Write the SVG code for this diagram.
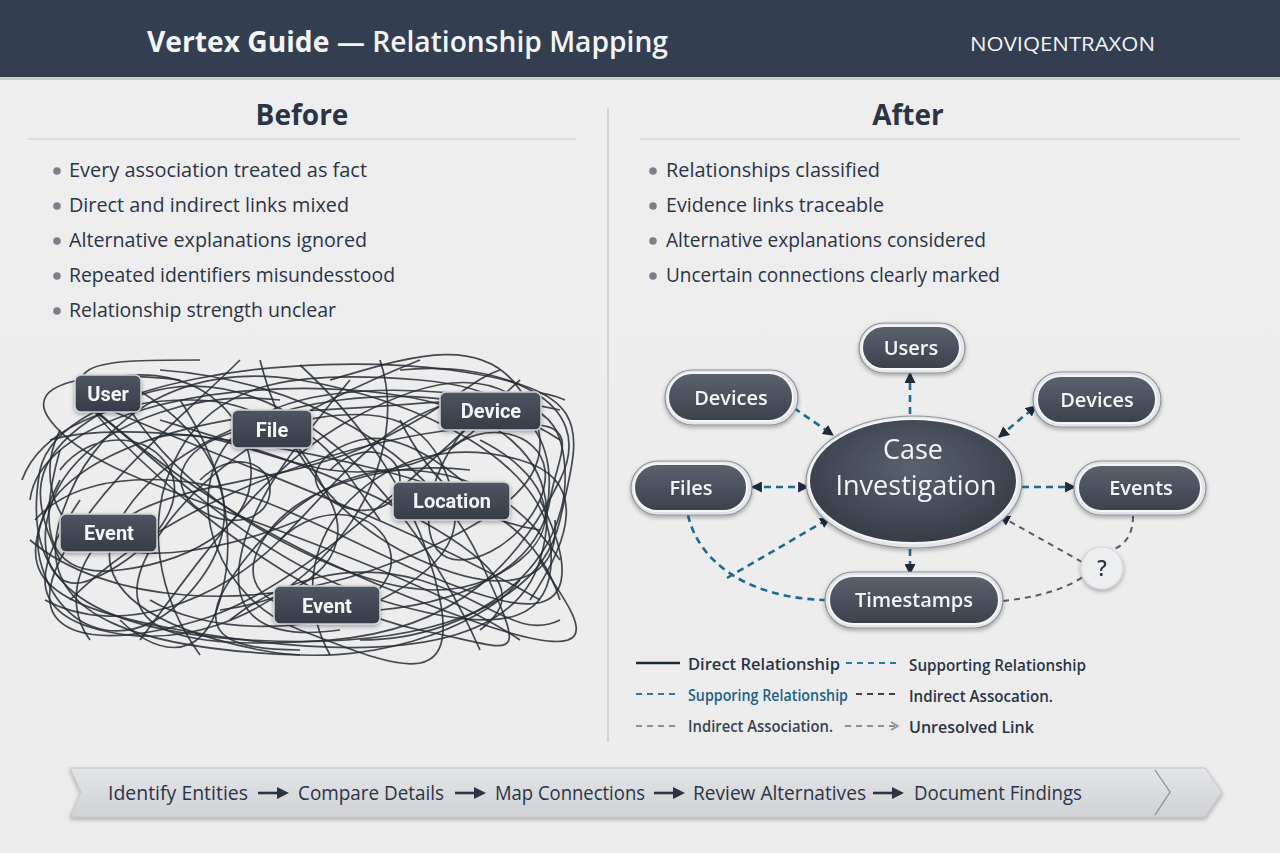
<svg xmlns="http://www.w3.org/2000/svg" width="1280" height="853" viewBox="0 0 1280 853">
<defs>
<style>
.t{font-family:"Open Sans","Noto Sans","Liberation Sans",sans-serif;fill:#2b3445}
.hd{font-family:"Open Sans","Noto Sans","Liberation Sans",sans-serif;fill:#f2f4f7}
.bul{font-size:20px;font-weight:500}
.dot{fill:#7a808a}
.bn{fill:url(#gb);stroke:#cfd3d8;stroke-width:1.5}
.bt{font-family:"Roboto","Open Sans","Liberation Sans",sans-serif;font-size:20px;font-weight:700;fill:#f4f5f7;text-anchor:middle}
.po{fill:#e3e5e8;stroke:#8d939c;stroke-width:1.2}
.pi{fill:url(#gp);stroke:#f5f6f8;stroke-width:2}
.pt{font-family:"Open Sans","Noto Sans","Liberation Sans",sans-serif;font-size:20px;font-weight:600;fill:#f4f5f7;text-anchor:middle}
.ct{font-family:"Open Sans","Noto Sans","Liberation Sans",sans-serif;font-size:27px;font-weight:400;fill:#f4f5f7;text-anchor:middle}
.tg path{fill:none;stroke:#262b33;stroke-width:1.7;stroke-opacity:0.85}
.bl{fill:none;stroke:#1f6a90;stroke-width:2.6;stroke-dasharray:7 5}
.gr{fill:none;stroke:#555d69;stroke-width:2;stroke-dasharray:6 5}
.lg{font-size:16.5px;font-weight:600}
</style>
<linearGradient id="gb" x1="0" y1="0" x2="0" y2="1"><stop offset="0" stop-color="#4e5562"/><stop offset="1" stop-color="#363c47"/></linearGradient>
<linearGradient id="gp" x1="0" y1="0" x2="0" y2="1"><stop offset="0" stop-color="#5b626f"/><stop offset="1" stop-color="#3b414c"/></linearGradient>
<radialGradient id="ge" cx="0.5" cy="0.4" r="0.6"><stop offset="0" stop-color="#5a6270"/><stop offset="1" stop-color="#363c47"/></radialGradient>
<linearGradient id="gbar" x1="0" y1="0" x2="0" y2="1"><stop offset="0" stop-color="#e4e5e7"/><stop offset="1" stop-color="#cfd1d4"/></linearGradient>
<linearGradient id="gbg" x1="0" y1="0" x2="0" y2="1"><stop offset="0" stop-color="#eeeeef"/><stop offset="1" stop-color="#ececed"/></linearGradient>
<filter id="sh" x="-20%" y="-30%" width="140%" height="170%"><feDropShadow dx="0" dy="2" stdDeviation="2" flood-color="#000" flood-opacity="0.3"/></filter>
<marker id="ah" viewBox="0 0 10 10" refX="9" refY="5" markerWidth="11" markerHeight="11" markerUnits="userSpaceOnUse" orient="auto-start-reverse"><path d="M0,0 L10,5 L0,10 Z" fill="#1c2a3a"/></marker>
<marker id="ao" viewBox="0 0 10 10" refX="9" refY="5" markerWidth="10" markerHeight="10" markerUnits="userSpaceOnUse" orient="auto"><path d="M2,1 L9,5 L2,9" fill="none" stroke="#8a9099" stroke-width="1.6"/></marker>
</defs>

<rect x="0" y="0" width="1280" height="853" fill="url(#gbg)"/>

<!-- header -->
<g id="header">
<rect x="0" y="0" width="1280" height="77" fill="#333e50"/>
<rect x="0" y="77" width="1280" height="3" fill="#c9ccd1"/>
<text class="hd" x="147" y="52" font-size="28" textLength="521" lengthAdjust="spacingAndGlyphs"><tspan font-weight="700">Vertex Guide</tspan><tspan font-weight="600"> — Relationship Mapping</tspan></text>
<text class="hd" x="970" y="51" font-size="20" font-weight="500" textLength="185" lengthAdjust="spacingAndGlyphs">NOVIQENTRAXON</text>
</g>

<!-- section headers -->
<g id="before-head">
<text class="t" x="302" y="125" font-size="28" font-weight="700" text-anchor="middle">Before</text>
<line x1="28" y1="139" x2="576" y2="139" stroke="#c9ccd1" stroke-width="1.2"/>
</g>
<g id="after-head">
<text class="t" x="908" y="125" font-size="28" font-weight="700" text-anchor="middle">After</text>
<line x1="640" y1="139" x2="1240" y2="139" stroke="#c9ccd1" stroke-width="1.2"/>
</g>
<line x1="608" y1="108" x2="608" y2="742" stroke="#c6c9ce" stroke-width="1.5"/>

<!-- bullets before -->
<g id="before-bullets">
<circle class="dot" cx="57" cy="171" r="3.8"/><text class="t bul" x="69" y="177" textLength="298" lengthAdjust="spacingAndGlyphs">Every association treated as fact</text>
<circle class="dot" cx="57" cy="206" r="3.8"/><text class="t bul" x="69" y="212" textLength="280" lengthAdjust="spacingAndGlyphs">Direct and indirect links mixed</text>
<circle class="dot" cx="57" cy="241" r="3.8"/><text class="t bul" x="69" y="247" textLength="298" lengthAdjust="spacingAndGlyphs">Alternative explanations ignored</text>
<circle class="dot" cx="57" cy="276" r="3.8"/><text class="t bul" x="69" y="282" textLength="326" lengthAdjust="spacingAndGlyphs">Repeated identifiers misundesstood</text>
<circle class="dot" cx="57" cy="311" r="3.8"/><text class="t bul" x="69" y="317" textLength="267" lengthAdjust="spacingAndGlyphs">Relationship strength unclear</text>
</g>

<!-- bullets after -->
<g id="after-bullets">
<circle class="dot" cx="653" cy="171" r="3.8"/><text class="t bul" x="666" y="177" textLength="214" lengthAdjust="spacingAndGlyphs">Relationships classified</text>
<circle class="dot" cx="653" cy="206" r="3.8"/><text class="t bul" x="666" y="212" textLength="218" lengthAdjust="spacingAndGlyphs">Evidence links traceable</text>
<circle class="dot" cx="653" cy="241" r="3.8"/><text class="t bul" x="666" y="247" textLength="320" lengthAdjust="spacingAndGlyphs">Alternative explanations considered</text>
<circle class="dot" cx="653" cy="276" r="3.8"/><text class="t bul" x="666" y="282" textLength="334" lengthAdjust="spacingAndGlyphs">Uncertain connections clearly marked</text>
</g>

<!-- tangle -->
<g id="tangle" class="tg">
<path d="M40,470 C60,380 300,350 450,370 S580,430 560,520 S420,650 250,640 S20,580 40,470"/>
<path d="M30,500 C40,420 200,380 350,390 S570,460 540,560 S350,660 180,630 S20,560 60,480"/>
<path d="M80,400 C150,450 250,560 380,600 S560,620 550,540 S420,400 300,380 S90,420 60,520 S150,650 300,655"/>
<path d="M120,380 C200,420 260,500 200,580 S60,640 40,560 S140,420 320,410 S560,380 565,470 S480,640 360,640"/>
<path d="M160,370 C300,380 430,450 480,560 S520,650 420,630 S200,520 120,440 S90,360 200,360"/>
<path d="M95,410 C200,500 300,560 470,620 S560,600 540,560"/>
<path d="M110,410 C250,470 400,520 540,600"/>
<path d="M240,360 C180,420 100,480 60,560 S100,650 200,620 S420,470 520,380"/>
<path d="M300,365 C360,420 420,500 440,600 S380,660 300,630 S180,500 230,440 S420,380 560,410"/>
<path d="M420,360 C320,400 200,460 150,550 S200,650 330,640 S520,560 560,480 S500,360 400,370"/>
<path d="M50,440 C120,420 260,440 380,470 S540,540 560,600"/>
<path d="M30,540 C100,600 250,620 400,560 S560,450 520,390 S400,360 330,380"/>
<path d="M70,600 C150,520 300,450 450,430 S560,440 550,500 S480,600 380,610"/>
<path d="M140,640 C200,560 260,470 350,420 S500,370 540,420"/>
<path d="M200,655 C160,600 140,520 180,450 S300,370 420,380 S560,450 545,520"/>
<path d="M260,360 C280,440 330,520 420,560 S560,580 555,520"/>
<path d="M480,650 C440,560 380,470 300,420 S150,380 90,420 S30,500 60,560"/>
<path d="M520,640 C460,600 360,560 250,520 S80,460 50,420 S100,370 180,380"/>
<path d="M380,360 C400,420 380,500 320,560 S180,650 100,630 S40,560 80,500"/>
<path d="M560,440 C500,400 420,390 340,400 S160,450 120,520 S160,630 260,650 S480,630 520,580"/>
<path d="M330,470 C360,440 400,450 400,480 S360,520 330,500 S320,450 360,440 S460,470 500,520"/>
<path d="M200,480 C230,450 270,460 270,490 S230,530 200,510 S170,450 240,430 S330,450 380,520"/>
<path d="M60,470 C90,430 150,430 170,470 S140,560 90,580 S30,520 70,470 S200,390 280,400"/>
<path d="M450,450 C480,420 540,430 545,470 S500,560 460,560 S420,500 450,450 S520,380 565,400"/>
<path d="M100,380 C180,360 240,400 250,460 S200,560 120,570 S40,520 60,450"/>
<path d="M280,540 C320,500 380,510 390,550 S350,620 300,610 S240,570 270,530 S380,460 470,470"/>
<path d="M35,520 C80,470 180,470 260,500 S420,580 500,600 S570,560 540,500"/>
<path d="M150,600 C200,630 300,640 380,600 S470,520 440,460 S340,410 260,430"/>
<path d="M90,640 C60,600 80,540 140,510 S300,480 380,440 S470,380 500,370"/>
<path d="M330,655 C300,600 310,540 350,500 S450,440 520,460 S570,540 530,600"/>
<path d="M45,600 C120,640 220,600 280,540 S380,420 460,400"/>
<path d="M180,400 C220,460 240,530 220,600 S150,650 120,620"/>
<path d="M400,420 C430,480 470,520 540,530"/>
<path d="M230,620 C280,580 350,560 420,580 S520,640 560,620"/>
<path d="M60,430 C40,470 50,520 90,540 S200,560 300,520"/>
<path d="M500,400 C470,450 400,480 330,470 S200,420 150,440"/>
<path d="M130,410 C170,470 230,520 320,560 S470,600 520,560 S540,470 480,440"/>
<path d="M350,380 C300,440 250,500 240,560 S270,640 340,630"/>
<path d="M22,480 C40,430 110,400 190,400 S300,440 330,500 S300,600 220,610"/>
<path d="M560,560 C520,500 470,470 400,470 S270,520 230,580 S240,650 300,650"/>
<path d="M160,420 C260,450 330,470 420,520 S520,600 480,630"/>
</g>

<!-- before nodes -->
<g id="b-user" filter="url(#sh)"><rect class="bn" x="75" y="375" width="66" height="37" rx="6"/><text class="bt" x="108" y="401">User</text></g>
<g id="b-file" filter="url(#sh)"><rect class="bn" x="232" y="410" width="80" height="38" rx="6"/><text class="bt" x="272" y="437">File</text></g>
<g id="b-device" filter="url(#sh)"><rect class="bn" x="440" y="392" width="101" height="38" rx="6"/><text class="bt" x="491" y="418">Device</text></g>
<g id="b-location" filter="url(#sh)"><rect class="bn" x="393" y="482" width="117" height="38" rx="6"/><text class="bt" x="452" y="508">Location</text></g>
<g id="b-event1" filter="url(#sh)"><rect class="bn" x="60" y="514" width="97" height="38" rx="6"/><text class="bt" x="109" y="540">Event</text></g>
<g id="b-event2" filter="url(#sh)"><rect class="bn" x="274" y="586" width="106" height="38" rx="6"/><text class="bt" x="327" y="613">Event</text></g>

<!-- after connectors -->
<g id="connectors">
<line class="bl" x1="910" y1="414" x2="910" y2="373" marker-end="url(#ah)"/>
<line class="bl" x1="794" y1="408" x2="833" y2="435" marker-end="url(#ah)"/>
<line class="bl" x1="999" y1="437" x2="1036" y2="406" marker-start="url(#ah)" marker-end="url(#ah)"/>
<line class="bl" x1="752" y1="487" x2="808" y2="487" marker-start="url(#ah)" marker-end="url(#ah)"/>
<line class="bl" x1="1022" y1="487" x2="1075" y2="487" marker-end="url(#ah)"/>
<line class="bl" x1="910" y1="549" x2="910" y2="574" marker-end="url(#ah)"/>
<path class="bl" d="M688,515 C698,560 745,598 826,600"/>
<line class="bl" x1="727" y1="578" x2="830" y2="518" marker-end="url(#ah)"/>
<path class="gr" d="M1133,516 C1133,535 1125,545 1112,550"/>
<line class="gr" x1="1082" y1="562" x2="1000" y2="516" marker-end="url(#ah)"/>
<path class="gr" d="M1003,601 C1040,597 1068,588 1084,576"/>
</g>

<!-- after nodes -->
<g id="a-users" filter="url(#sh)"><rect class="po" x="859" y="323" width="106" height="50" rx="25"/><rect class="pi" x="862" y="326" width="98" height="43" rx="21.5"/><text class="pt" x="911" y="355">Users</text></g>
<g id="a-devices-l" filter="url(#sh)"><rect class="po" x="665" y="370" width="133" height="55" rx="27.5"/><rect class="pi" x="668" y="373" width="125" height="48" rx="24"/><text class="pt" x="731" y="405">Devices</text></g>
<g id="a-devices-r" filter="url(#sh)"><rect class="po" x="1033" y="372" width="128" height="55" rx="27.5"/><rect class="pi" x="1037" y="376" width="119" height="47" rx="23.5"/><text class="pt" x="1097" y="407">Devices</text></g>
<g id="a-files" filter="url(#sh)"><rect class="po" x="631" y="461" width="121" height="54" rx="27"/><rect class="pi" x="634" y="464" width="113" height="47" rx="23.5"/><text class="pt" x="691" y="495">Files</text></g>
<g id="a-events" filter="url(#sh)"><rect class="po" x="1074" y="461" width="132" height="54" rx="27"/><rect class="pi" x="1078" y="465" width="123" height="46" rx="23"/><text class="pt" x="1141" y="495">Events</text></g>
<g id="a-timestamps" filter="url(#sh)"><rect class="po" x="825" y="572" width="178" height="56" rx="28"/><rect class="pi" x="829" y="576" width="170" height="48" rx="24"/><text class="pt" x="914" y="607">Timestamps</text></g>
<g id="a-case" filter="url(#sh)"><ellipse cx="914" cy="482" rx="108" ry="66" fill="#e3e5e8" stroke="#8d939c" stroke-width="1.2"/><ellipse cx="913" cy="481" rx="104" ry="62" fill="url(#ge)" stroke="#f5f6f8" stroke-width="2"/><text class="ct" x="913" y="459">Case</text><text class="ct" x="916" y="495">Investigation</text></g>
<g id="a-unknown" filter="url(#sh)"><circle cx="1102" cy="568" r="21" fill="#eceef0" stroke="#d3d6da" stroke-width="1.2"/><text class="t" x="1102" y="576" font-size="21" font-weight="600" text-anchor="middle">?</text></g>

<!-- legend -->
<g id="legend">
<line x1="636" y1="663" x2="680" y2="663" stroke="#1e2a3c" stroke-width="2.6"/>
<text class="t lg" x="688" y="670" textLength="152" lengthAdjust="spacingAndGlyphs">Direct Relationship</text>
<line x1="846" y1="663" x2="899" y2="663" stroke="#2a7aa0" stroke-width="2.2" stroke-dasharray="6 5"/>
<text class="t lg" x="909" y="671" textLength="177" lengthAdjust="spacingAndGlyphs" font-weight="500">Supporting Relationship</text>
<line x1="636" y1="694" x2="680" y2="694" stroke="#2a7aa0" stroke-width="2.2" stroke-dasharray="6 5"/>
<text class="lg" x="688" y="701" font-family="Open Sans, Noto Sans, Liberation Sans, sans-serif" fill="#1f5f85" textLength="160" lengthAdjust="spacingAndGlyphs">Supporing Relationship</text>
<line x1="856" y1="694" x2="899" y2="694" stroke="#3a4350" stroke-width="2.2" stroke-dasharray="6 5"/>
<text class="t lg" x="909" y="702" textLength="144" lengthAdjust="spacingAndGlyphs" font-weight="500">Indirect Assocation.</text>
<line x1="636" y1="726" x2="680" y2="726" stroke="#8a9099" stroke-width="2" stroke-dasharray="6 5"/>
<text class="lg" x="688" y="732" font-family="Open Sans, Noto Sans, Liberation Sans, sans-serif" fill="#3a4350" textLength="145" lengthAdjust="spacingAndGlyphs" font-weight="500">Indirect Association.</text>
<line x1="845" y1="726" x2="898" y2="726" stroke="#8a9099" stroke-width="2" stroke-dasharray="6 5" marker-end="url(#ao)"/>
<text class="t lg" x="909" y="733" textLength="125" lengthAdjust="spacingAndGlyphs">Unresolved Link</text>
</g>

<!-- process bar -->
<g id="process" filter="url(#sh)">
<polygon points="70,768 1205,768 1222,792 1205,817 70,817 81,792" fill="url(#gbar)" stroke="#c2c5c9" stroke-width="1"/>
<polyline points="1155,770 1170,792 1155,815" fill="none" stroke="#8a8f96" stroke-width="1.3"/>
</g>
<g id="steps">
<text class="t" x="108" y="800" font-size="20" font-weight="500" textLength="140" lengthAdjust="spacingAndGlyphs">Identify Entities</text>
<text class="t" x="298" y="800" font-size="20" font-weight="500" textLength="146" lengthAdjust="spacingAndGlyphs">Compare Details</text>
<text class="t" x="495" y="800" font-size="20" font-weight="500" textLength="150" lengthAdjust="spacingAndGlyphs">Map Connections</text>
<text class="t" x="693" y="800" font-size="20" font-weight="500" textLength="173" lengthAdjust="spacingAndGlyphs">Review Alternatives</text>
<text class="t" x="914" y="800" font-size="20" font-weight="500" textLength="168" lengthAdjust="spacingAndGlyphs">Document Findings</text>
<g fill="#2b3445" stroke="#2b3445">
<line x1="258" y1="793" x2="279" y2="793" stroke-width="2.6"/><path d="M277,787 L289,793 L277,799 Z" stroke="none"/>
<line x1="455" y1="793" x2="476" y2="793" stroke-width="2.6"/><path d="M474,787 L486,793 L474,799 Z" stroke="none"/>
<line x1="654" y1="793" x2="675" y2="793" stroke-width="2.6"/><path d="M673,787 L685,793 L673,799 Z" stroke="none"/>
<line x1="873" y1="793" x2="894" y2="793" stroke-width="2.6"/><path d="M892,787 L904,793 L892,799 Z" stroke="none"/>
</g>
</g>
</svg>
